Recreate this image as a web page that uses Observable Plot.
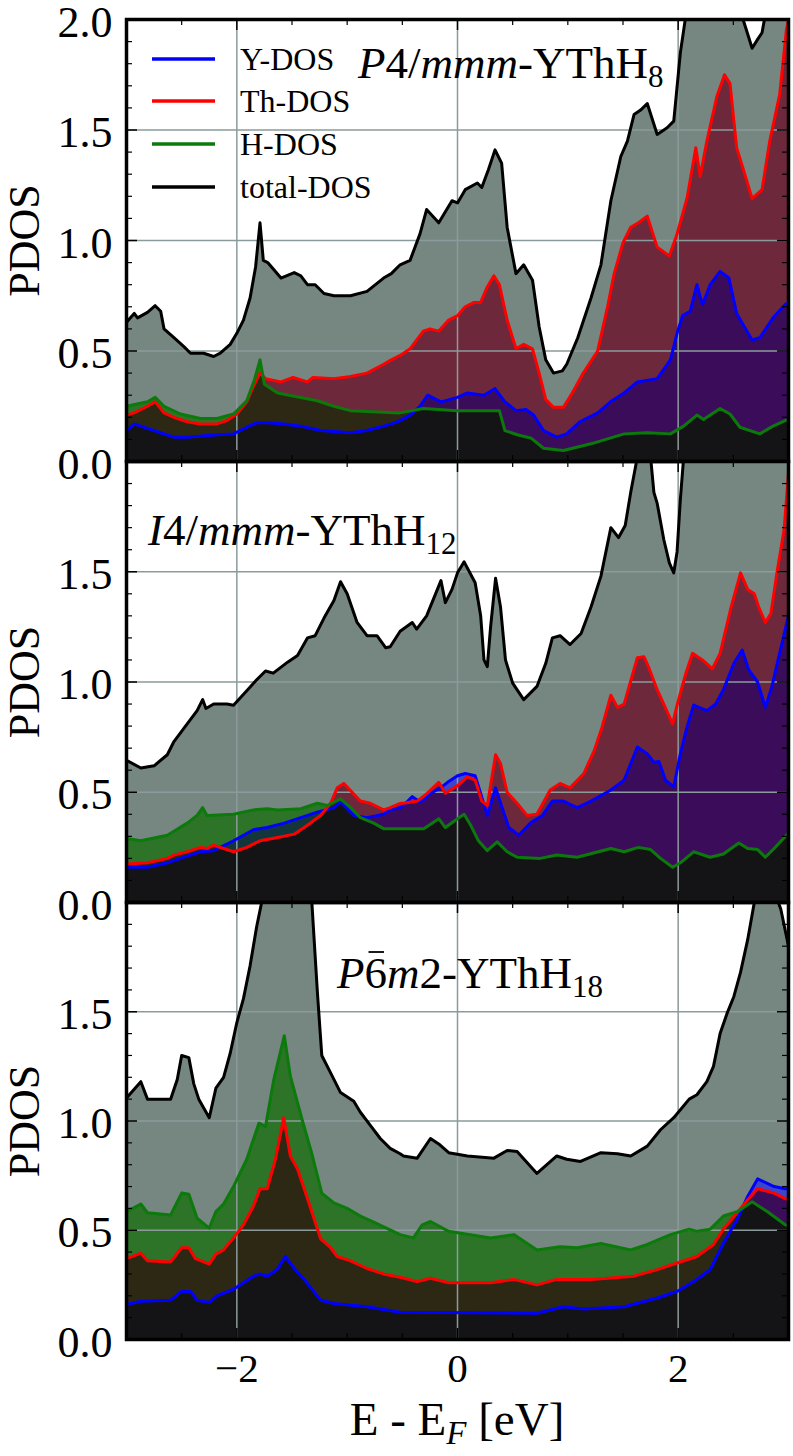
<!DOCTYPE html>
<html><head><meta charset="utf-8">
<script src="https://cdn.jsdelivr.net/npm/d3@7"></script>
<script src="https://cdn.jsdelivr.net/npm/@observablehq/plot@0.6"></script>
<style>
 body{margin:0;background:#fff;}
 #wrap{position:relative;width:793px;height:1456px;background:#fff;font-family:'Liberation Serif',serif;}
 .panel{position:absolute;left:0;}
 #ov{position:absolute;left:0;top:0;pointer-events:none;}
</style></head><body><div id="wrap"></div>
<script>
// ---------------- DATA (E - E_F [eV], PDOS) ----------------
// Panel 1: P4/mmm-YThH8
const P1_TOTAL = [[-3.00,0.63],[-2.93,0.67],[-2.90,0.65],[-2.81,0.675],[-2.74,0.705],[-2.69,0.68],[-2.66,0.60],[-2.57,0.56],[-2.48,0.52],[-2.42,0.49],[-2.36,0.49],[-2.30,0.49],[-2.21,0.475],[-2.15,0.49],[-2.06,0.53],[-2.00,0.58],[-1.94,0.64],[-1.88,0.74],[-1.83,0.88],[-1.79,1.08],[-1.76,0.91],[-1.72,0.90],[-1.60,0.83],[-1.48,0.855],[-1.42,0.84],[-1.36,0.80],[-1.29,0.80],[-1.21,0.76],[-1.12,0.75],[-0.97,0.75],[-0.82,0.77],[-0.67,0.83],[-0.60,0.85],[-0.52,0.89],[-0.43,0.91],[-0.34,1.03],[-0.28,1.14],[-0.17,1.08],[-0.05,1.18],[0.00,1.17],[0.07,1.23],[0.18,1.26],[0.22,1.24],[0.28,1.32],[0.34,1.41],[0.40,1.35],[0.45,1.06],[0.53,0.85],[0.60,0.89],[0.68,0.82],[0.74,0.61],[0.80,0.46],[0.87,0.40],[0.95,0.41],[0.99,0.44],[1.09,0.56],[1.21,0.74],[1.30,0.89],[1.39,1.18],[1.48,1.38],[1.54,1.45],[1.60,1.57],[1.66,1.59],[1.72,1.62],[1.81,1.48],[1.90,1.51],[1.96,1.54],[2.02,1.85],[2.07,2.02],[2.15,2.15],[2.25,2.25],[2.35,2.30],[2.45,2.20],[2.55,2.06],[2.62,1.95],[2.67,1.87],[2.72,1.91],[2.76,1.94],[2.80,2.05],[2.90,2.30],[3.00,2.50]];
const P1_TH = [[-3.00,0.21],[-2.93,0.22],[-2.81,0.25],[-2.74,0.27],[-2.66,0.22],[-2.57,0.20],[-2.45,0.18],[-2.33,0.17],[-2.18,0.17],[-2.09,0.185],[-2.00,0.215],[-1.91,0.27],[-1.85,0.34],[-1.79,0.40],[-1.74,0.375],[-1.60,0.36],[-1.49,0.38],[-1.36,0.36],[-1.31,0.38],[-1.12,0.375],[-0.97,0.385],[-0.82,0.40],[-0.67,0.44],[-0.60,0.46],[-0.52,0.48],[-0.43,0.51],[-0.31,0.59],[-0.25,0.60],[-0.17,0.59],[-0.08,0.64],[0.00,0.66],[0.07,0.70],[0.15,0.72],[0.21,0.72],[0.27,0.79],[0.33,0.84],[0.38,0.80],[0.45,0.64],[0.53,0.51],[0.60,0.53],[0.68,0.51],[0.74,0.40],[0.80,0.28],[0.87,0.245],[0.96,0.245],[1.04,0.31],[1.14,0.40],[1.27,0.50],[1.36,0.70],[1.42,0.85],[1.50,0.99],[1.57,1.06],[1.64,1.08],[1.72,1.11],[1.81,0.97],[1.92,0.93],[1.99,1.03],[2.08,1.19],[2.16,1.42],[2.20,1.29],[2.26,1.45],[2.35,1.65],[2.42,1.75],[2.47,1.71],[2.53,1.42],[2.61,1.29],[2.67,1.19],[2.76,1.23],[2.83,1.45],[2.92,1.66],[2.98,1.95],[3.00,2.00]];
const P1_Y = [[-3.00,0.14],[-2.93,0.17],[-2.81,0.15],[-2.69,0.13],[-2.57,0.11],[-2.45,0.11],[-2.21,0.12],[-2.03,0.125],[-1.91,0.155],[-1.82,0.175],[-1.72,0.175],[-1.57,0.17],[-1.42,0.16],[-1.24,0.14],[-0.97,0.13],[-0.82,0.14],[-0.67,0.16],[-0.60,0.17],[-0.52,0.185],[-0.43,0.21],[-0.34,0.25],[-0.27,0.30],[-0.15,0.27],[0.00,0.29],[0.09,0.31],[0.24,0.30],[0.34,0.33],[0.43,0.27],[0.53,0.23],[0.62,0.235],[0.69,0.21],[0.78,0.14],[0.90,0.11],[0.99,0.125],[1.11,0.18],[1.27,0.22],[1.40,0.275],[1.51,0.31],[1.63,0.36],[1.81,0.375],[1.93,0.46],[1.99,0.58],[2.04,0.66],[2.11,0.68],[2.17,0.80],[2.22,0.71],[2.29,0.80],[2.38,0.86],[2.46,0.83],[2.53,0.67],[2.67,0.55],[2.74,0.56],[2.86,0.65],[2.97,0.71],[3.00,0.72]];
const P1_H = [[-3.00,0.25],[-2.81,0.27],[-2.74,0.29],[-2.66,0.25],[-2.51,0.215],[-2.33,0.195],[-2.18,0.195],[-2.03,0.215],[-1.91,0.275],[-1.84,0.37],[-1.79,0.46],[-1.75,0.35],[-1.63,0.31],[-1.42,0.29],[-1.27,0.275],[-1.12,0.25],[-0.97,0.23],[-0.52,0.22],[-0.31,0.24],[0.00,0.23],[0.38,0.23],[0.43,0.14],[0.55,0.12],[0.67,0.105],[0.78,0.06],[0.96,0.05],[1.21,0.08],[1.51,0.125],[1.72,0.13],[1.93,0.125],[2.05,0.16],[2.17,0.21],[2.23,0.19],[2.38,0.24],[2.47,0.215],[2.56,0.155],[2.74,0.125],[2.86,0.16],[2.97,0.185],[3.00,0.19]];

// Panel 2: I4/mmm-YThH12
const P2_TOTAL = [[-3.00,0.645],[-2.87,0.61],[-2.75,0.62],[-2.63,0.67],[-2.57,0.73],[-2.45,0.81],[-2.36,0.87],[-2.31,0.92],[-2.28,0.88],[-2.21,0.90],[-2.09,0.90],[-2.03,0.895],[-1.91,0.96],[-1.82,1.01],[-1.74,1.05],[-1.67,1.04],[-1.54,1.09],[-1.45,1.12],[-1.36,1.20],[-1.29,1.21],[-1.21,1.29],[-1.12,1.37],[-1.06,1.455],[-1.00,1.40],[-0.91,1.27],[-0.82,1.21],[-0.73,1.21],[-0.65,1.155],[-0.61,1.16],[-0.52,1.23],[-0.41,1.27],[-0.37,1.24],[-0.28,1.30],[-0.15,1.46],[-0.11,1.36],[-0.05,1.42],[0.00,1.495],[0.06,1.545],[0.16,1.45],[0.21,1.30],[0.24,1.10],[0.27,1.07],[0.30,1.25],[0.345,1.47],[0.39,1.34],[0.435,1.10],[0.50,0.995],[0.60,0.92],[0.72,0.98],[0.80,1.085],[0.86,1.20],[0.93,1.21],[1.02,1.17],[1.12,1.22],[1.21,1.34],[1.30,1.48],[1.39,1.70],[1.46,1.655],[1.52,1.71],[1.57,1.86],[1.63,2.02],[1.68,2.12],[1.75,2.02],[1.78,1.86],[1.81,1.81],[1.87,1.645],[1.92,1.54],[1.96,1.495],[1.99,1.59],[2.02,1.83],[2.05,2.02],[2.20,2.20],[2.50,2.30],[2.80,2.35],[3.00,2.40]];
const P2_TH = [[-3.00,0.175],[-2.81,0.18],[-2.63,0.20],[-2.57,0.215],[-2.45,0.23],[-2.33,0.25],[-2.27,0.245],[-2.21,0.26],[-2.12,0.245],[-2.03,0.23],[-1.91,0.25],[-1.79,0.28],[-1.63,0.295],[-1.48,0.31],[-1.36,0.35],[-1.24,0.395],[-1.15,0.45],[-1.09,0.52],[-1.03,0.54],[-0.955,0.50],[-0.88,0.46],[-0.79,0.45],[-0.67,0.42],[-0.61,0.43],[-0.52,0.45],[-0.49,0.45],[-0.365,0.46],[-0.275,0.495],[-0.17,0.545],[-0.11,0.495],[0.00,0.53],[0.09,0.57],[0.16,0.555],[0.22,0.46],[0.27,0.44],[0.345,0.67],[0.39,0.63],[0.45,0.50],[0.54,0.45],[0.63,0.395],[0.72,0.40],[0.84,0.51],[0.93,0.54],[1.02,0.52],[1.145,0.585],[1.24,0.69],[1.31,0.795],[1.39,0.94],[1.45,0.885],[1.51,0.90],[1.63,1.11],[1.69,1.115],[1.73,1.07],[1.81,0.965],[1.95,0.81],[1.99,0.895],[2.07,1.04],[2.13,1.13],[2.22,1.10],[2.31,1.06],[2.38,1.13],[2.475,1.33],[2.565,1.495],[2.63,1.42],[2.69,1.40],[2.73,1.34],[2.79,1.27],[2.84,1.31],[2.90,1.51],[2.96,1.69],[3.00,1.95]];
const P2_Y = [[-3.00,0.16],[-2.81,0.16],[-2.63,0.18],[-2.45,0.21],[-2.33,0.23],[-2.21,0.235],[-2.03,0.28],[-1.85,0.33],[-1.725,0.34],[-1.57,0.36],[-1.42,0.385],[-1.27,0.41],[-1.12,0.43],[-1.06,0.455],[-0.94,0.395],[-0.82,0.385],[-0.67,0.40],[-0.61,0.42],[-0.52,0.43],[-0.49,0.44],[-0.41,0.48],[-0.335,0.455],[-0.245,0.495],[-0.155,0.52],[-0.09,0.545],[0.00,0.575],[0.07,0.585],[0.16,0.575],[0.21,0.495],[0.27,0.395],[0.345,0.52],[0.405,0.43],[0.465,0.34],[0.555,0.305],[0.66,0.36],[0.77,0.395],[0.86,0.46],[0.96,0.46],[1.085,0.43],[1.21,0.46],[1.39,0.51],[1.51,0.555],[1.63,0.705],[1.72,0.675],[1.78,0.635],[1.825,0.64],[1.885,0.555],[1.96,0.525],[2.02,0.675],[2.08,0.795],[2.14,0.895],[2.26,0.87],[2.34,0.90],[2.41,0.965],[2.505,1.085],[2.58,1.145],[2.64,1.055],[2.72,1.00],[2.79,0.885],[2.85,0.98],[2.91,1.11],[2.99,1.28],[3.00,1.30]];
const P2_H = [[-3.00,0.29],[-2.87,0.28],[-2.63,0.305],[-2.45,0.36],[-2.36,0.395],[-2.31,0.43],[-2.27,0.395],[-2.03,0.40],[-1.85,0.42],[-1.725,0.425],[-1.63,0.42],[-1.42,0.425],[-1.27,0.45],[-1.18,0.44],[-1.06,0.47],[-0.97,0.43],[-0.88,0.385],[-0.76,0.36],[-0.67,0.335],[-0.52,0.335],[-0.305,0.335],[-0.17,0.38],[-0.11,0.34],[0.00,0.38],[0.06,0.40],[0.12,0.35],[0.19,0.28],[0.27,0.235],[0.36,0.275],[0.45,0.23],[0.54,0.205],[0.75,0.20],[0.90,0.215],[1.085,0.205],[1.39,0.245],[1.51,0.23],[1.64,0.25],[1.75,0.24],[1.84,0.20],[1.95,0.16],[2.02,0.18],[2.14,0.23],[2.29,0.205],[2.41,0.22],[2.55,0.27],[2.63,0.245],[2.72,0.24],[2.79,0.205],[2.87,0.245],[2.99,0.31],[3.00,0.32]];

// Panel 3: P-6m2-YThH18
const P3_TOTAL = [[-3.00,1.105],[-2.87,1.18],[-2.81,1.10],[-2.69,1.10],[-2.60,1.10],[-2.54,1.19],[-2.50,1.30],[-2.435,1.29],[-2.39,1.17],[-2.345,1.10],[-2.25,1.015],[-2.19,1.15],[-2.12,1.20],[-2.06,1.31],[-2.00,1.45],[-1.94,1.56],[-1.88,1.71],[-1.82,1.89],[-1.755,2.05],[-1.65,2.35],[-1.58,2.45],[-1.50,2.35],[-1.40,2.15],[-1.32,2.00],[-1.27,1.59],[-1.23,1.30],[-1.15,1.22],[-1.06,1.13],[-0.94,1.09],[-0.88,1.04],[-0.79,0.98],[-0.70,0.92],[-0.61,0.875],[-0.52,0.85],[-0.49,0.84],[-0.365,0.83],[-0.245,0.92],[-0.17,0.895],[-0.08,0.855],[0.09,0.84],[0.33,0.83],[0.45,0.865],[0.54,0.86],[0.63,0.81],[0.72,0.76],[0.81,0.80],[0.90,0.84],[0.99,0.825],[1.115,0.815],[1.30,0.855],[1.45,0.85],[1.57,0.84],[1.72,0.885],[1.84,0.96],[1.96,1.015],[2.10,1.10],[2.17,1.12],[2.26,1.18],[2.32,1.25],[2.38,1.40],[2.445,1.495],[2.505,1.57],[2.565,1.68],[2.63,1.83],[2.69,2.00],[2.78,2.10],[2.87,2.05],[2.93,1.97],[3.00,1.80]];
const P3_TH = [[-3.00,0.37],[-2.87,0.395],[-2.81,0.36],[-2.60,0.355],[-2.50,0.42],[-2.435,0.42],[-2.375,0.37],[-2.25,0.345],[-2.19,0.39],[-2.12,0.41],[-2.03,0.465],[-1.94,0.525],[-1.85,0.61],[-1.79,0.69],[-1.725,0.69],[-1.65,0.825],[-1.575,1.015],[-1.515,0.84],[-1.45,0.78],[-1.36,0.645],[-1.24,0.46],[-1.15,0.42],[-1.09,0.38],[-0.97,0.36],[-0.82,0.325],[-0.67,0.30],[-0.52,0.285],[-0.365,0.265],[-0.245,0.28],[-0.08,0.26],[0.30,0.26],[0.51,0.275],[0.72,0.25],[0.90,0.275],[1.21,0.275],[1.60,0.29],[1.81,0.32],[1.99,0.35],[2.17,0.38],[2.32,0.435],[2.41,0.505],[2.535,0.58],[2.63,0.64],[2.72,0.69],[2.87,0.67],[2.97,0.645],[3.00,0.64]];
const P3_Y = [[-3.00,0.16],[-2.87,0.175],[-2.60,0.18],[-2.50,0.22],[-2.42,0.22],[-2.36,0.18],[-2.25,0.17],[-2.18,0.20],[-2.03,0.23],[-1.85,0.29],[-1.79,0.30],[-1.725,0.29],[-1.635,0.32],[-1.56,0.38],[-1.48,0.325],[-1.39,0.275],[-1.24,0.18],[-1.12,0.165],[-0.82,0.15],[-0.52,0.125],[0.72,0.12],[0.96,0.15],[1.145,0.14],[1.51,0.15],[1.81,0.19],[1.99,0.22],[2.17,0.275],[2.29,0.32],[2.41,0.44],[2.535,0.55],[2.63,0.655],[2.72,0.735],[2.87,0.70],[2.97,0.69],[3.00,0.69]];
const P3_H = [[-3.00,0.585],[-2.87,0.62],[-2.81,0.58],[-2.60,0.57],[-2.50,0.67],[-2.435,0.665],[-2.36,0.555],[-2.25,0.51],[-2.19,0.585],[-2.12,0.62],[-2.03,0.70],[-1.91,0.825],[-1.80,0.99],[-1.74,0.975],[-1.665,1.19],[-1.57,1.39],[-1.515,1.205],[-1.41,1.01],[-1.32,0.85],[-1.23,0.67],[-1.12,0.625],[-1.00,0.60],[-0.88,0.565],[-0.73,0.53],[-0.52,0.48],[-0.40,0.465],[-0.32,0.525],[-0.245,0.54],[-0.08,0.495],[0.30,0.465],[0.51,0.48],[0.72,0.41],[0.93,0.425],[1.085,0.42],[1.30,0.44],[1.57,0.41],[1.72,0.435],[1.93,0.48],[2.10,0.505],[2.17,0.495],[2.29,0.505],[2.41,0.565],[2.535,0.585],[2.67,0.63],[2.81,0.585],[2.97,0.525],[3.00,0.52]];

// Series labels, tick values, annotations
const SERIES = ["Y-DOS", "Th-DOS", "H-DOS", "total-DOS"];
const X_MAJOR = [-2, 0, 2];
const X_MINOR = [-2.5, -1.5, -1, -0.5, 0.5, 1, 1.5, 2.5];
const Y_MAJOR = [0, 0.5, 1, 1.5, 2];
const Y_MINOR = [0.1,0.2,0.3,0.4,0.6,0.7,0.8,0.9,1.1,1.2,1.3,1.4,1.6,1.7,1.8,1.9];
const Y_GRID = [0.5, 1, 1.5];
const Y_LABELS_TOP = [0, 0.5, 1, 1.5, 2];
const Y_LABELS_LOW = [0, 0.5, 1, 1.5];

// ---------------- STYLE ----------------
const LINE = {Y: "#0000ff", Th: "#ff0000", H: "#0b7a0b", T: "#000000"};
const FILL = {T: "#768782", H: "#2d7328", Th: "#6e283c", Y: "#3c46c8",
              HTh: "#2d2814", HY: "#13363d", ThY: "#3a0c5a", HThY: "#141416"};
const GRID = "#8b9b9b";
const FONT = "'Liberation Serif', 'DejaVu Serif', serif";
const W = 793, ML = 126, MR = 5;
const NS = "http://www.w3.org/2000/svg";

const PANELS = [
  {top: 0,   height: 461, mt: 19, mb: 0,   yLabels: Y_LABELS_TOP, xAxis: false,
   d: {T: P1_TOTAL, H: P1_H, Th: P1_TH, Y: P1_Y}},
  {top: 461, height: 441, mt: 0,  mb: 0,   yLabels: Y_LABELS_LOW, xAxis: false,
   d: {T: P2_TOTAL, H: P2_H, Th: P2_TH, Y: P2_Y}},
  {top: 902, height: 554, mt: 0,  mb: 117, yLabels: Y_LABELS_LOW, xAxis: true,
   d: {T: P3_TOTAL, H: P3_H, Th: P3_TH, Y: P3_Y}}
];

const wrap = document.getElementById("wrap");
const fmtX = d => d < 0 ? "\u2212" + (-d) : String(d);

function buildPanel(cfg, idx) {
  const pw = W - ML - MR;
  const ph = cfg.height - cfg.mt - cfg.mb;
  const X = r => r[0], V = r => r[1];
  const area = (data, fill) => Plot.areaY(data, {x: X, y: V, fill, clip: true});
  const line = (data, stroke) => Plot.line(data, {x: X, y: V, stroke, strokeWidth: 3, clip: true, strokeLinejoin: "round"});
  const d = cfg.d;
  const marks = [
    area(d.T, FILL.T),
    area(d.H, FILL.H),
    area(d.Th, FILL.Th),
    area(d.Y, FILL.Y),
    area(d.Th, FILL.HTh),
    area(d.Y, FILL.HY),
    area(d.Y, FILL.ThY),
    area(d.Y, FILL.HThY),
    Plot.ruleX(X_MAJOR, {stroke: GRID, strokeWidth: 1.5}),
    Plot.ruleY(Y_GRID, {stroke: GRID, strokeWidth: 1.5}),
    line(d.Y, LINE.Y),
    line(d.Th, LINE.Th),
    line(d.H, LINE.H),
    line(d.T, LINE.T),
    // inward ticks on all four sides
    Plot.tickY(Y_MAJOR, {y: v => v, insetRight: pw - 11, stroke: "black", strokeWidth: 1.5}),
    Plot.tickY(Y_MAJOR, {y: v => v, insetLeft: pw - 11, stroke: "black", strokeWidth: 1.5}),
    Plot.tickY(Y_MINOR, {y: v => v, insetRight: pw - 6, stroke: "black", strokeWidth: 1.2}),
    Plot.tickY(Y_MINOR, {y: v => v, insetLeft: pw - 6, stroke: "black", strokeWidth: 1.2}),
    Plot.tickX(X_MAJOR, {x: v => v, insetBottom: ph - 11, stroke: "black", strokeWidth: 1.5}),
    Plot.tickX(X_MAJOR, {x: v => v, insetTop: ph - 11, stroke: "black", strokeWidth: 1.5}),
    Plot.tickX(X_MINOR, {x: v => v, insetBottom: ph - 6, stroke: "black", strokeWidth: 1.2}),
    Plot.tickX(X_MINOR, {x: v => v, insetTop: ph - 6, stroke: "black", strokeWidth: 1.2}),
    Plot.frame({stroke: "black", strokeWidth: 3.5}),
    Plot.axisY(cfg.yLabels, {tickSize: 0, tickPadding: 14, tickFormat: v => v.toFixed(1), dy: 3,
      fontSize: 44, label: "PDOS", labelAnchor: "center", labelOffset: 119, labelArrow: "none"})
  ];
  if (cfg.xAxis) {
    marks.push(Plot.axisX(X_MAJOR, {tickSize: 0, tickPadding: 13, tickFormat: fmtX, fontSize: 41, label: null}));
  }
  const svg = Plot.plot({
    width: W, height: cfg.height,
    marginLeft: ML, marginRight: MR, marginTop: cfg.mt, marginBottom: cfg.mb,
    x: {domain: [-3, 3], axis: cfg.xAxis ? undefined : null},
    y: {domain: [0, 2]},
    style: {fontFamily: FONT, fontSize: "44px", color: "black", background: "transparent", overflow: "visible"},
    marks
  });
  svg.classList.add("panel");
  svg.style.position = "absolute";
  svg.style.left = "0px";
  svg.style.top = cfg.top + "px";
  svg.style.pointerEvents = "none";
  wrap.appendChild(svg);
  try { addClips(svg, "pnl" + idx); } catch (e) { console.error(e); }
}

// Overlap colouring: clip the intersection layers by the other partial areas.
function addClips(svg, pid) {
  const pathOf = color => {
    const el = svg.querySelector(`[fill="${color}"]`);
    if (!el) return null;
    return el.tagName.toLowerCase() === "path" ? el : el.querySelector("path");
  };
  const defs = document.createElementNS(NS, "defs");
  svg.insertBefore(defs, svg.firstChild);
  const mk = (key, color) => {
    const cp = document.createElementNS(NS, "clipPath");
    cp.setAttribute("id", `${pid}-${key}`);
    const p = document.createElementNS(NS, "path");
    p.setAttribute("d", pathOf(color).getAttribute("d"));
    cp.appendChild(p);
    defs.appendChild(cp);
  };
  mk("H", FILL.H);
  mk("Th", FILL.Th);
  const clip = (color, keys) => {
    let el = pathOf(color);
    el.setAttribute("clip-path", `url(#${pid}-${keys[0]})`);
    for (const k of keys.slice(1)) {
      const g = document.createElementNS(NS, "g");
      g.setAttribute("clip-path", `url(#${pid}-${k})`);
      el.parentNode.insertBefore(g, el);
      g.appendChild(el);
      el = g;
    }
  };
  clip(FILL.HTh, ["H"]);
  clip(FILL.HY, ["H"]);
  clip(FILL.ThY, ["Th"]);
  clip(FILL.HThY, ["H", "Th"]);
}

PANELS.forEach(buildPanel);

// ---------------- Overlay text: legend, titles, x label ----------------
const ov = document.createElementNS(NS, "svg");
ov.setAttribute("id", "ov");
ov.setAttribute("width", W); ov.setAttribute("height", 1456);
ov.style.fontFamily = FONT;
wrap.appendChild(ov);

function addText(parent, x, y, parts, size, anchor) {
  const t = document.createElementNS(NS, "text");
  t.setAttribute("x", x); t.setAttribute("y", y);
  t.setAttribute("font-size", size);
  t.setAttribute("fill", "black");
  if (anchor) t.setAttribute("text-anchor", anchor);
  for (const [txt, kind] of parts) {
    const s = document.createElementNS(NS, "tspan");
    s.textContent = txt;
    if (kind.includes("i")) s.setAttribute("font-style", "italic");
    if (kind.includes("sub")) { s.setAttribute("font-size", Math.round(size * 0.7)); s.setAttribute("dy", Math.round(size * 0.2)); }
    if (kind.includes("up")) s.setAttribute("dy", -Math.round(size * 0.2));
    t.appendChild(s);
  }
  parent.appendChild(t);
  return t;
}

// legend
const legColors = [LINE.Y, LINE.Th, LINE.H, LINE.T];
const legY = [59, 101, 144, 187];
SERIES.forEach((name, i) => {
  const l = document.createElementNS(NS, "line");
  l.setAttribute("x1", 152); l.setAttribute("x2", 215);
  l.setAttribute("y1", legY[i]); l.setAttribute("y2", legY[i]);
  l.setAttribute("stroke", legColors[i]); l.setAttribute("stroke-width", 3.5);
  ov.appendChild(l);
  const t = addText(ov, 240, legY[i], [[name, ""]], 32);
  t.setAttribute("dy", "0.34em");
});

// panel titles
addText(ov, 358, 78, [["P", "i"], ["4/", ""], ["mmm", "i"], ["-YThH", ""], ["8", "sub"]], 45);
addText(ov, 148, 545, [["I", "i"], ["4/", ""], ["mmm", "i"], ["-YThH", ""], ["12", "sub"]], 45);
const t3 = addText(ov, 337, 988, [["P", "i"], ["6", ""], ["m", "i"], ["2-YThH", ""], ["18", "sub"]], 45);
// bar over the "6" (P-6m2), placed from the rendered glyph extent
try {
  const ext = t3.getExtentOfChar(1);
  const bar = document.createElementNS(NS, "line");
  bar.setAttribute("x1", ext.x + 4); bar.setAttribute("x2", ext.x + ext.width - 3);
  bar.setAttribute("y1", 988 - 36); bar.setAttribute("y2", 988 - 36);
  bar.setAttribute("stroke", "black"); bar.setAttribute("stroke-width", 1.8);
  ov.appendChild(bar);
} catch (e) { console.error(e); }

// x label
addText(ov, 457, 1435, [["E - E", ""], ["F", "i sub"], [" [eV]", "up"]], 47, "middle");
</script></body></html>
